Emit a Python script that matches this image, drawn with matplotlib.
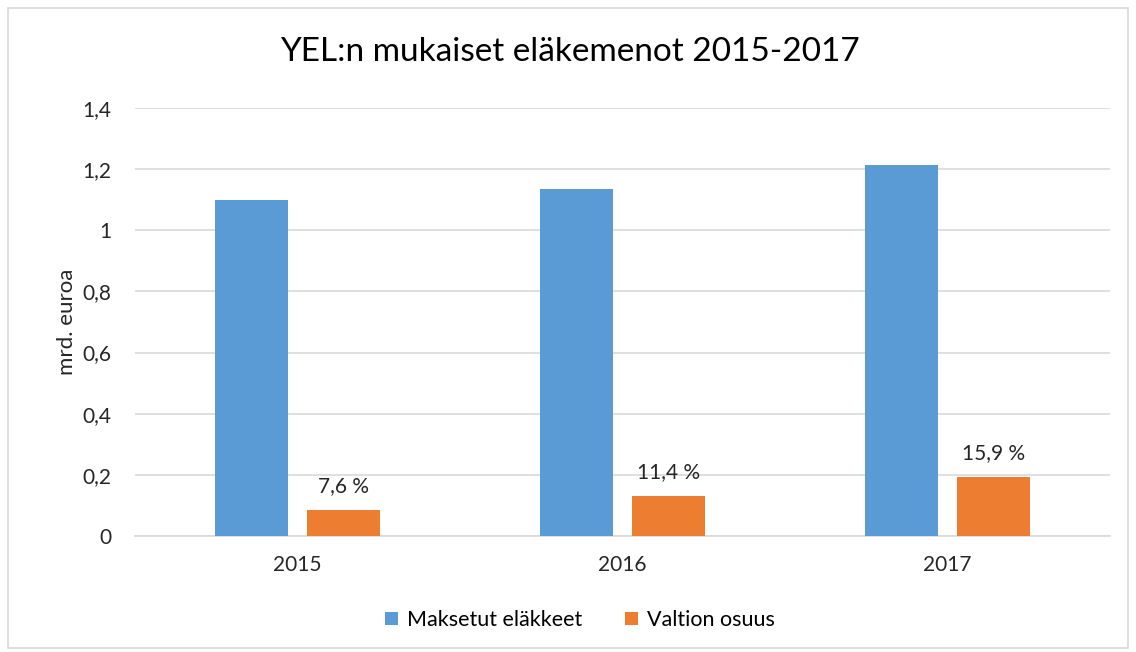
import numpy as np
import matplotlib.pyplot as plt
from matplotlib.patches import Rectangle

years = ['2015', '2016', '2017']
maksetut = [1.099, 1.134, 1.212]
valtio = [0.085, 0.130, 0.193]
osuus_labels = ['7,6 %', '11,4 %', '15,9 %']
yticks = [0, 0.2, 0.4, 0.6, 0.8, 1.0, 1.2, 1.4]
ytick_labels = ['0', '0,2', '0,4', '0,6', '0,8', '1', '1,2', '1,4']

plt.rcParams['font.family'] = ['Lato', 'DejaVu Sans']

fig = plt.figure(figsize=(11.36, 6.52), dpi=100)
fig.patches.append(Rectangle((8 / 1136, 4 / 652), 1120 / 1136, 640 / 652,
                             transform=fig.transFigure, fill=False,
                             edgecolor='#d9d9d9', linewidth=1.2))

ax = fig.add_axes([135 / 1136, 1 - 536 / 652, 975 / 1136, 428 / 652])
x = np.arange(len(years))
w = 0.225
off = 0.141
ax.bar(x - off, maksetut, w, color='#5B9BD5', label='Maksetut eläkkeet', zorder=3)
ax.bar(x + off, valtio, w, color='#ED7D31', label='Valtion osuus', zorder=3)

for xi, v, lab in zip(x, valtio, osuus_labels):
    ax.annotate(lab, (xi + off, v), xytext=(0, 10), textcoords='offset points',
                ha='center', va='bottom', fontsize=15, color='#262626')

ax.set_xlim(-0.5, 2.5)
ax.set_ylim(0, 1.4)
ax.set_xticks(x)
ax.set_xticklabels(years, fontsize=15, color='#262626')
ax.set_yticks(yticks)
ax.set_yticklabels(ytick_labels, fontsize=15, color='#262626')
ax.tick_params(length=0, pad=17)
ax.tick_params(axis='x', pad=14)
ax.grid(axis='y', color='#d9d9d9', linewidth=1.2, zorder=0)
for s in ['top', 'right', 'left']:
    ax.spines[s].set_visible(False)
ax.spines['bottom'].set_color('#d9d9d9')
ax.spines['bottom'].set_linewidth(1.2)
ax.set_ylabel('mrd. euroa', fontsize=16, color='#262626', labelpad=4)

fig.text(570 / 1136, 1 - 52 / 652, 'YEL:n mukaiset eläkemenot 2015-2017',
         ha='center', va='center', fontsize=24, color='#000000')

fig.legend(loc='center', bbox_to_anchor=(580 / 1136, 1 - 620 / 652), ncol=2,
           frameon=False, fontsize=15.5, handlelength=0.6, handleheight=0.6,
           columnspacing=2.0, handletextpad=0.4)

fig.savefig('out.png', dpi=100)
